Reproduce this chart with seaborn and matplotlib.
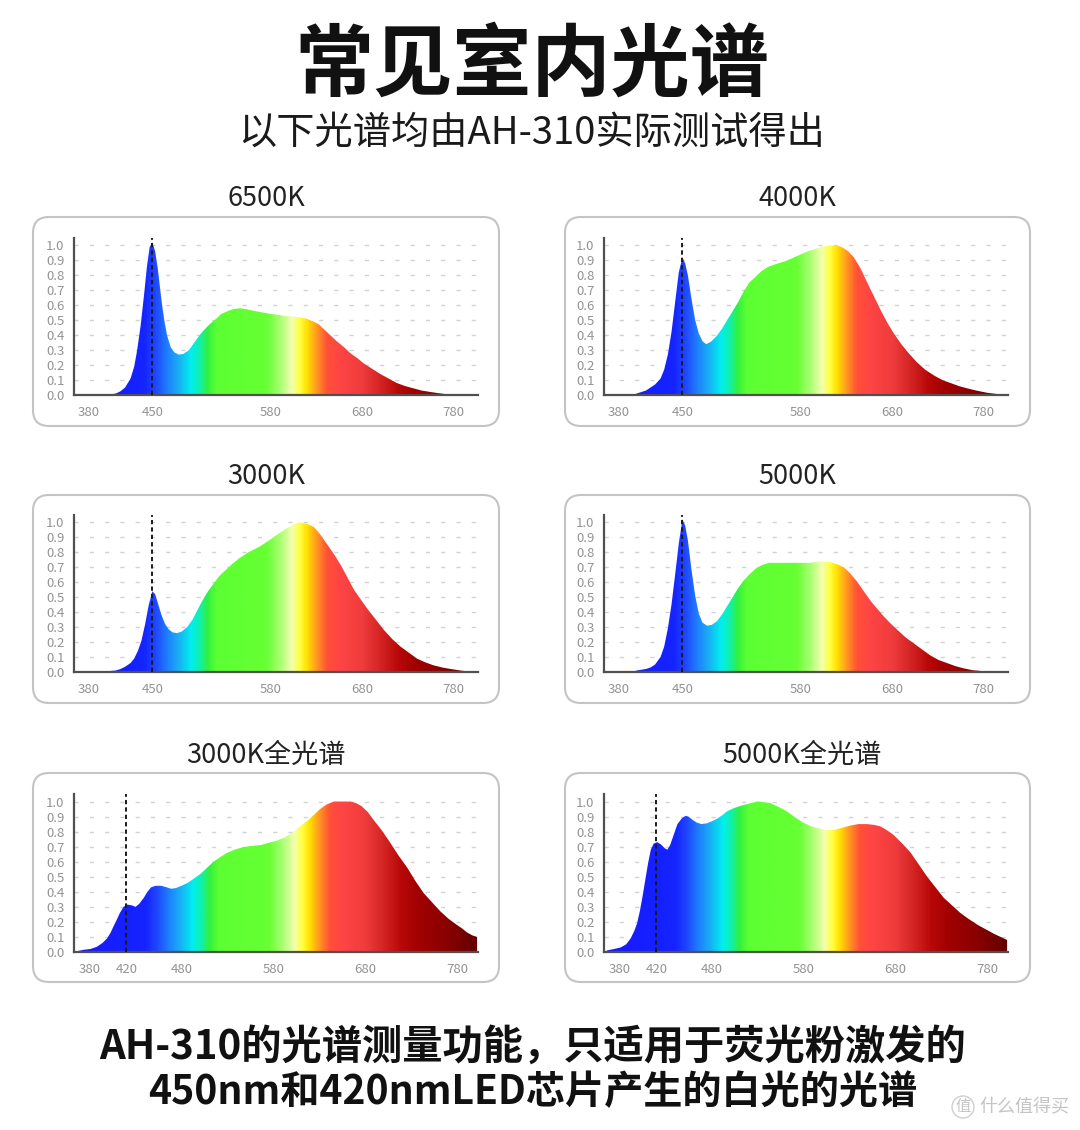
import numpy as np
import matplotlib.pyplot as plt
import seaborn as sns
from matplotlib.colors import LinearSegmentedColormap, Normalize
from matplotlib.patches import FancyBboxPatch, Circle

W, H = 1080, 1130

# spectra: wavelength (nm) and relative intensity
wl_6500 = [365, 395, 405, 410, 415, 420, 426, 430, 433, 437, 441, 444, 447, 450, 453, 456, 460, 463, 466, 470,
           474, 479, 484, 490, 497, 503, 509, 514, 520, 525, 532, 539, 546, 552, 560, 572, 583, 594, 603,
           611, 619, 627, 633, 638, 645, 652, 660, 667, 675, 682, 691, 700, 709, 718, 727, 736, 745, 755,
           764, 773, 780]
val_6500 = [0.0, 0.0, 0.005, 0.01, 0.025, 0.05, 0.11, 0.19, 0.29, 0.46, 0.68, 0.86, 0.99, 1.02, 0.96, 0.84,
            0.63, 0.50, 0.40, 0.32, 0.285, 0.27, 0.275, 0.30, 0.36, 0.41, 0.45, 0.48, 0.51, 0.54, 0.56, 0.575,
            0.58, 0.575, 0.565, 0.55, 0.54, 0.53, 0.525, 0.52, 0.51, 0.49, 0.47, 0.44, 0.40, 0.36, 0.32, 0.28,
            0.245, 0.21, 0.175, 0.14, 0.11, 0.08, 0.06, 0.045, 0.03, 0.02, 0.012, 0.005, 0.0]

wl_4000 = [365, 395, 400, 410, 415, 420, 426, 430, 434, 438, 442, 446, 450, 453, 456, 460, 464, 468, 472, 476,
           481, 487, 493, 499, 505, 511, 517, 523, 530, 537, 545, 555, 565, 576, 587, 597, 605, 612, 620,
           626, 632, 638, 645, 652, 660, 668, 675, 682, 690, 698, 707, 716, 726, 735, 744, 753, 762, 772,
           784, 797, 805]
val_4000 = [0.0, 0.0, 0.01, 0.03, 0.05, 0.07, 0.11, 0.17, 0.27, 0.42, 0.62, 0.82, 0.92, 0.88, 0.80, 0.64,
            0.50, 0.41, 0.36, 0.34, 0.355, 0.39, 0.44, 0.50, 0.56, 0.62, 0.69, 0.75, 0.79, 0.83, 0.86, 0.88,
            0.90, 0.93, 0.96, 0.98, 0.995, 1.0, 1.0, 0.985, 0.96, 0.92, 0.85, 0.76, 0.66, 0.56, 0.48, 0.41,
            0.34, 0.28, 0.22, 0.17, 0.13, 0.10, 0.08, 0.06, 0.045, 0.03, 0.015, 0.005, 0.0]

wl_3000 = [365, 395, 400, 410, 415, 420, 426, 430, 434, 438, 442, 446, 450, 453, 456, 460, 464, 468, 472, 477,
           482, 488, 494, 499, 505, 511, 517, 523, 530, 537, 545, 555, 568, 578, 587, 597, 605, 612, 620,
           627, 634, 642, 650, 657, 664, 671, 679, 686, 695, 704, 713, 722, 731, 740, 749, 758, 768, 777,
           790, 805]
val_3000 = [0.0, 0.0, 0.005, 0.01, 0.02, 0.035, 0.06, 0.09, 0.14, 0.21, 0.32, 0.45, 0.54, 0.52, 0.46, 0.38,
            0.32, 0.285, 0.265, 0.26, 0.27, 0.30, 0.35, 0.41, 0.48, 0.54, 0.59, 0.64, 0.68, 0.72, 0.76, 0.80,
            0.84, 0.88, 0.92, 0.96, 0.99, 1.0, 0.99, 0.97, 0.92, 0.85, 0.78, 0.71, 0.63, 0.55, 0.48, 0.42,
            0.35, 0.28, 0.22, 0.17, 0.13, 0.09, 0.065, 0.045, 0.03, 0.02, 0.008, 0.0]

wl_5000 = [365, 395, 400, 410, 415, 420, 426, 430, 434, 438, 442, 446, 450, 453, 456, 460, 464, 468, 472, 477,
           482, 488, 494, 499, 505, 511, 517, 523, 530, 537, 545, 555, 572, 590, 602, 612, 620, 627, 634,
           642, 650, 657, 664, 671, 679, 686, 695, 704, 713, 722, 731, 740, 749, 758, 768, 777, 785]
val_5000 = [0.0, 0.0, 0.01, 0.02, 0.03, 0.05, 0.10, 0.17, 0.29, 0.45, 0.65, 0.86, 1.02, 0.98, 0.88, 0.68,
            0.51, 0.39, 0.33, 0.31, 0.315, 0.34, 0.39, 0.44, 0.50, 0.56, 0.61, 0.65, 0.69, 0.715, 0.73, 0.73,
            0.73, 0.73, 0.74, 0.735, 0.72, 0.70, 0.66, 0.60, 0.53, 0.47, 0.42, 0.37, 0.32, 0.28, 0.23, 0.19,
            0.15, 0.11, 0.08, 0.06, 0.04, 0.025, 0.012, 0.007, 0.0]

wl_3000f = [366, 374, 381, 388, 394, 399, 403, 406, 410, 413, 417, 421, 426, 430, 434, 439, 443, 447, 452,
            458, 464, 469, 474, 480, 487, 494, 501, 508, 515, 522, 530, 538, 546, 556, 566, 575, 584, 592,
            600, 608, 617, 624, 631, 638, 646, 656, 664, 670, 676, 683, 689, 698, 707, 716, 726, 735, 744,
            753, 762, 771, 780, 786, 791, 797, 802]
val_3000f = [0.005, 0.015, 0.02, 0.035, 0.06, 0.09, 0.13, 0.17, 0.22, 0.26, 0.30, 0.315, 0.31, 0.30, 0.32,
             0.36, 0.40, 0.43, 0.44, 0.44, 0.43, 0.42, 0.425, 0.44, 0.46, 0.49, 0.52, 0.56, 0.60, 0.63, 0.66,
             0.68, 0.695, 0.705, 0.71, 0.725, 0.74, 0.76, 0.79, 0.83, 0.87, 0.91, 0.95, 0.98, 1.0, 1.0, 1.0,
             0.99, 0.97, 0.93, 0.88, 0.81, 0.73, 0.645, 0.56, 0.47, 0.39, 0.33, 0.27, 0.22, 0.18, 0.155,
             0.13, 0.11, 0.10]

wl_5000f = [366, 374, 381, 387, 392, 396, 399, 402, 405, 408, 411, 414, 417, 421, 425, 429, 432, 435, 439,
            443, 448, 452, 455, 459, 464, 469, 475, 481, 486, 492, 497, 504, 511, 520, 530, 538, 544, 553,
            562, 571, 580, 589, 598, 606, 613, 622, 631, 640, 649, 657, 664, 671, 678, 688, 697, 706, 715,
            724, 733, 742, 751, 760, 770, 779, 788, 795, 802]
val_5000f = [0.01, 0.02, 0.03, 0.05, 0.09, 0.14, 0.19, 0.27, 0.37, 0.48, 0.59, 0.68, 0.72, 0.73, 0.715, 0.69,
             0.68, 0.71, 0.78, 0.85, 0.89, 0.905, 0.90, 0.88, 0.86, 0.85, 0.855, 0.87, 0.885, 0.91, 0.935,
             0.955, 0.97, 0.985, 1.0, 0.995, 0.99, 0.965, 0.935, 0.895, 0.86, 0.835, 0.82, 0.81, 0.81, 0.825,
             0.84, 0.85, 0.85, 0.845, 0.835, 0.81, 0.78, 0.72, 0.66, 0.58, 0.50, 0.43, 0.36, 0.31, 0.26,
             0.22, 0.18, 0.15, 0.12, 0.10, 0.08]

titles = ['6500K', '4000K', '3000K', '5000K', '3000K全光谱', '5000K全光谱']
ticks_led = [380, 450, 580, 680, 780]
ticks_full = [380, 420, 480, 580, 680, 780]
y_ticks = [0.0, 0.1, 0.2, 0.3, 0.4, 0.5, 0.6, 0.7, 0.8, 0.9, 1.0]

# colour of the fill along the wavelength axis
spec_nodes = [(360, '#1818ff'), (440, '#1424ff'), (452, '#1f44ff'), (465, '#1e7cff'), (478, '#1aaef5'),
              (492, '#00eef0'), (501, '#10f0b0'), (510, '#30f040'), (520, '#5cff33'), (575, '#66ff33'),
              (590, '#a8ff70'), (603, '#f4ffb0'), (612, '#ffff40'), (620, '#ffe000'), (630, '#ff9a20'),
              (642, '#ff5038'), (655, '#ff4545'), (680, '#f03c3c'), (700, '#d52525'), (720, '#b80808'),
              (740, '#a00000'), (770, '#8a0000'), (810, '#5a0000')]
lo, hi = 360, 810
spec_cmap = LinearSegmentedColormap.from_list(
    'spec', [((nm - lo) / (hi - lo), c) for nm, c in spec_nodes])

sns.set_theme(style='white')
plt.rcParams['font.family'] = ['Noto Sans CJK SC', 'DejaVu Sans']

fig = plt.figure(figsize=(W / 100, H / 100), dpi=100)
fig.patch.set_facecolor('white')


def px_text(x, y, s, **kw):
    fig.text(x / W, 1 - y / H, s, ha='center', va='center', **kw)


# title block
px_text(532, 66, '常见室内光谱', fontsize=57, fontweight='black', color='#111111')
px_text(532, 133, '以下光谱均由AH-310实际测试得出', fontsize=27.5, color='#1a1a1a')

cols = [(74, 33, 499, 266), (604, 565, 1030, 797)]
rows = [(395, 238, 217, 426, 198), (672, 515, 495, 703, 476), (952, 794, 773, 982, 755)]

spectra = [(wl_6500, val_6500), (wl_4000, val_4000), (wl_3000, val_3000),
           (wl_5000, val_5000), (wl_3000f, val_3000f), (wl_5000f, val_5000f)]

for i, (wl, val) in enumerate(spectra):
    r, c = divmod(i, 2)
    ax_x0, bx0, bx1, tx = cols[c]
    y_bot, y_top, by0, by1, ty = rows[r]
    full = r == 2

    box = FancyBboxPatch((bx0 / 100, (H - by1) / 100), (bx1 - bx0) / 100, (by1 - by0) / 100,
                         boxstyle='round,pad=0,rounding_size=0.16', transform=fig.dpi_scale_trans,
                         fc='white', ec='#c4c4c4', lw=1.5, zorder=-1)
    fig.add_artist(box)
    title_x = tx + 5 if i == 5 else tx
    px_text(title_x, ty, titles[i], fontsize=19.5, color='#222222')

    ax = fig.add_axes([ax_x0 / W, 1 - y_bot / H, 404 / W, (y_bot - y_top) / H])
    ax.patch.set_alpha(0)
    xlim = (363, 803) if full else (364, 807)
    ylim = (0, 1.05)

    poly = ax.fill_between(wl, val, 0, facecolor='none', lw=0)
    grad = np.linspace(xlim[0], xlim[1], 700)[None, :]
    im = ax.imshow(grad, extent=[xlim[0], xlim[1], 0, 1.1], cmap=spec_cmap,
                   norm=Normalize(lo, hi), aspect='auto', origin='lower',
                   interpolation='bilinear', zorder=2)
    im.set_clip_path(poly.get_paths()[0], transform=ax.transData)

    ax.axvline(420 if full else 450, color='#1a1a1a', ls=(0, (2.2, 1.6)), lw=1.4, zorder=3)

    ax.set_xlim(*xlim)
    ax.set_ylim(*ylim)
    ax.set_xticks(ticks_full if full else ticks_led)
    ax.set_yticks(y_ticks)
    ax.set_yticklabels([f'{v:.1f}' for v in y_ticks])
    ax.grid(axis='y', color='#d2d2d2', ls=(0, (3, 8)), lw=1)
    ax.set_axisbelow(True)
    sns.despine(ax=ax)
    for side in ['left', 'bottom']:
        ax.spines[side].set_color('#505050')
        ax.spines[side].set_linewidth(1.6)
    ax.tick_params(length=0, labelsize=9.5, labelcolor='#939393')
    ax.tick_params(axis='y', pad=7)
    ax.tick_params(axis='x', pad=8)

# bottom note
px_text(533, 1047, 'AH-310的光谱测量功能，只适用于荧光粉激发的', fontsize=29, fontweight='bold',
        color='#111111')
px_text(533, 1093, '450nm和420nmLED芯片产生的白光的光谱', fontsize=28.2, fontweight='bold',
        color='#111111')

# watermark
fig.add_artist(Circle((963 / 100, (H - 1107) / 100), 0.11, transform=fig.dpi_scale_trans,
                      fill=False, ec='#cfcfcf', lw=1))
px_text(963, 1107, '值', fontsize=11, color='#c4c4c4')
px_text(1024, 1107, '什么值得买', fontsize=13, color='#c4c4c4')

fig.savefig('out.png', dpi=100, facecolor='white')
